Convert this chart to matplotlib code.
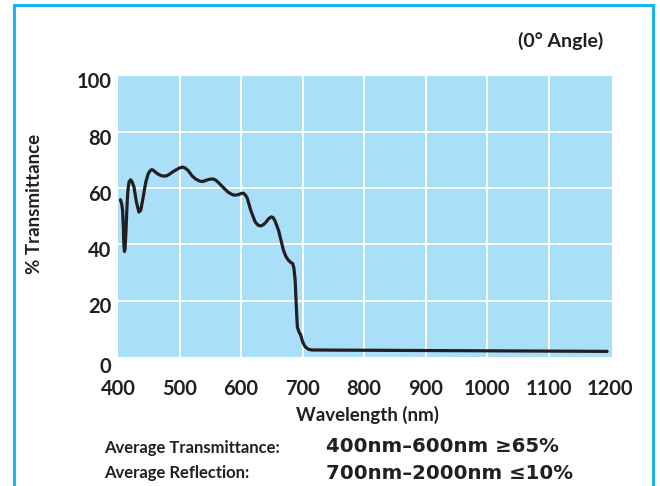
import matplotlib
matplotlib.use("Agg")
import matplotlib.pyplot as plt
from matplotlib.patches import Rectangle
from matplotlib.transforms import ScaledTranslation

plt.rcParams['font.family'] = ['Lato', 'DejaVu Sans']

# transmittance curve (0 deg angle)
wavelength = [404, 406, 407.5, 408.7, 409.5, 410.5, 411.5, 413, 414.5, 416,
              418, 420.5, 423, 426, 430, 434, 437, 441, 445, 449, 452, 455,
              458, 462, 466, 470, 475, 479, 483, 487, 491, 495, 500, 505, 509,
              514, 520, 526, 533, 538, 543, 549, 554, 558, 562, 570, 579, 585,
              590, 597, 601, 604, 607, 610, 616, 623, 628, 632, 636, 640, 645,
              649, 652, 655, 661, 669, 673, 677, 681, 684, 686, 688, 689.6,
              691.5, 694, 697, 700, 704, 709, 715, 750, 800, 900, 1000, 1100,
              1195]
transmittance = [55.9, 54.5, 52.1, 46, 40, 37.5, 38.5, 45, 53, 59, 62.3, 63,
                 62.2, 60.4, 55, 51.5, 52.2, 56.9, 62, 65.1, 66.2, 66.6, 66.3,
                 65.5, 64.9, 64.5, 64.3, 64.4, 64.9, 65.5, 66.1, 66.6, 67.2,
                 67.5, 67.2, 66.3, 64.5, 63.3, 62.5, 62.4, 62.8, 63.2, 63.3,
                 63.0, 62.3, 60.5, 58.6, 57.8, 57.5, 57.8, 58.2, 58.2, 57.6,
                 56.5, 52, 48, 46.8, 46.6, 47.0, 47.8, 49.2, 49.8, 49.6, 48.5,
                 45, 37.9, 35.7, 34.4, 33.6, 33.2, 31.5, 27.3, 19, 10.7, 9,
                 7.8, 5.5, 3.7, 2.8, 2.5, 2.45, 2.4, 2.3, 2.2, 2.1, 2.0]

x_ticks = [400, 500, 600, 700, 800, 900, 1000, 1100, 1200]
y_ticks = [0, 20, 40, 60, 80, 100]

INK = "#231f20"
W, H = 660, 486
fig = plt.figure(figsize=(W / 100, H / 100), dpi=100)
ax = fig.add_axes([118 / W, 1 - 357 / H, (612 - 118) / W, (357 - 75.7) / H])

ax.set_facecolor("#aadff9")
ax.set_xlim(400, 1203)
ax.set_ylim(0, 100)
for v in x_ticks[1:-1]:
    ax.axvline(v, color="white", lw=1.4, zorder=1)
for v in y_ticks[1:-1]:
    ax.axhline(v, color="white", lw=1.4, zorder=1)

ax.plot(wavelength, transmittance, color=INK, lw=2.3,
        solid_joinstyle="round", solid_capstyle="round", zorder=3)

for s in ax.spines.values():
    s.set_visible(False)
ax.tick_params(length=0, labelsize=14.5, labelcolor=INK)
ax.tick_params(axis="x", pad=16)
ax.tick_params(axis="y", pad=5)
ax.set_xticks(x_ticks)
ax.set_xticklabels([str(v) for v in x_ticks], fontweight="bold")
ax.set_yticks(y_ticks)
ax.set_yticklabels([str(v) for v in y_ticks], fontweight="bold")
# the y labels sit a little below their gridlines, the 0 even more
for i, lab in enumerate(ax.get_yticklabels()):
    dy = 5.4 if i == 0 else 3.4
    lab.set_transform(lab.get_transform() +
                      ScaledTranslation(0, -dy / 72, fig.dpi_scale_trans))

fig.text(34 / W, 1 - 203.5 / H, "% Transmittance", rotation=90,
         ha="center", va="center", fontsize=13.5, fontweight="bold",
         color=INK)
fig.text(368 / W, 1 - 415 / H, "Wavelength (nm)", ha="center", va="center",
         fontsize=13.5, fontweight="bold", color=INK)

# blue frame round the chart, open at the bottom
fig.patches.append(Rectangle((13.5 / W, -0.05), (653 - 13.5) / W,
                             1.05 - 5.5 / H, transform=fig.transFigure,
                             fill=False, edgecolor="#19b4f1", lw=2.2))

fig.text(560.5 / W, 1 - 41 / H, "(0° Angle)", ha="center", va="center",
         fontsize=14, fontweight="bold", color=INK)

fig.text(104 / W, 1 - 453 / H, "Average Transmittance:", ha="left",
         va="baseline", fontsize=12, fontweight="bold", color=INK)
fig.text(326 / W, 1 - 452.5 / H, "400nm–600nm ≥65%", ha="left",
         va="baseline", fontsize=14.2, fontweight="bold",
         family="DejaVu Sans", color=INK)
fig.text(104 / W, 1 - 477.5 / H, "Average Reflection:", ha="left",
         va="baseline", fontsize=12, fontweight="bold", color=INK)
fig.text(326 / W, 1 - 478.5 / H, "700nm–2000nm ≤10%", ha="left",
         va="baseline", fontsize=14.2, fontweight="bold",
         family="DejaVu Sans", color=INK)

fig.savefig("out.png", dpi=100)
